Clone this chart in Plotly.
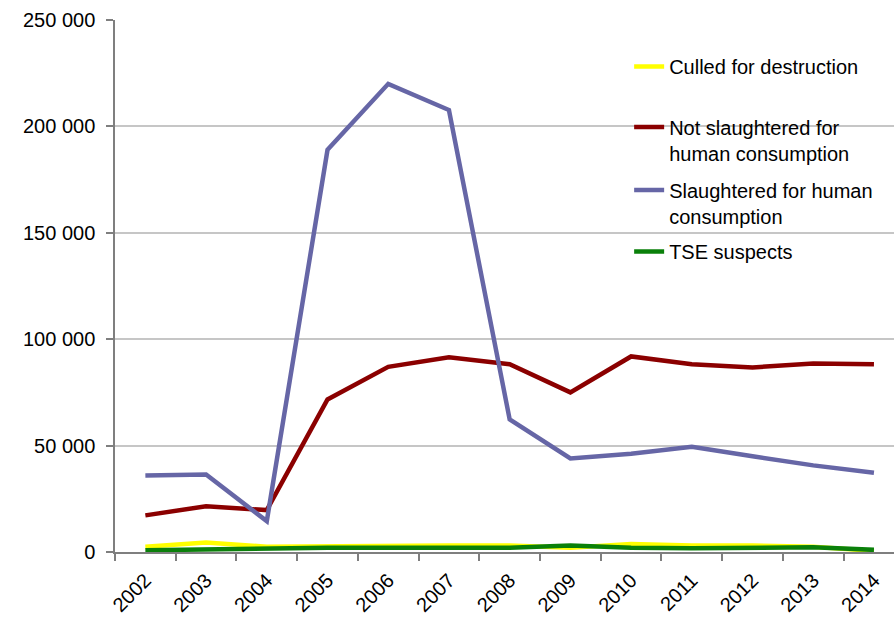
import plotly.graph_objects as go

# Years on the category axis
years = ["2002", "2003", "2004", "2005", "2006", "2007", "2008",
         "2009", "2010", "2011", "2012", "2013", "2014"]

# Number of animals per year, by category
culled_for_destruction = [2500, 4500, 2500, 2800, 3000, 3000, 3000,
                          2000, 3800, 3000, 3000, 2500, 500]
not_slaughtered_for_hc = [17200, 21500, 19700, 71700, 87000, 91500, 88200,
                          75000, 91900, 88200, 86700, 88600, 88200]
slaughtered_for_hc = [36000, 36400, 14500, 189000, 220000, 207700, 62300,
                      44000, 46200, 49500, 45000, 40700, 37200]
tse_suspects = [800, 1200, 1800, 2000, 2000, 1800, 2000,
                3000, 2000, 1800, 2000, 2200, 1000]

# Y-axis ticks
y_tick_values = [0, 50000, 100000, 150000, 200000, 250000]
y_tick_labels = ["0", "50 000", "100 000", "150 000", "200 000", "250 000"]

FONT = "Liberation Sans, Arial, sans-serif"

series = [
    ("Culled for destruction", culled_for_destruction, "#FFFF00", "legend"),
    ("Not slaughtered for<br>human consumption", not_slaughtered_for_hc, "#8B0000", "legend2"),
    ("Slaughtered for human<br>consumption", slaughtered_for_hc, "#6666A6", "legend3"),
    ("TSE suspects", tse_suspects, "#0A800A", "legend4"),
]

fig = go.Figure()
for name, values, color, leg in series:
    fig.add_trace(go.Scatter(
        x=years, y=values, name=name, mode="lines",
        line=dict(color=color, width=4.5),
        legend=leg,
    ))

# One legend box per series so each entry sits at its own height
legend_common = dict(
    x=0.66, xanchor="left", yanchor="middle",
    bgcolor="rgba(0,0,0,0)", borderwidth=0,
    font=dict(family=FONT, size=20, color="#000000"),
    valign="top",
)
fig.update_layout(
    legend=dict(y=0.9126, **legend_common),
    legend2=dict(y=0.7744, **legend_common),
    legend3=dict(y=0.6560, **legend_common),
    legend4=dict(y=0.5648, **legend_common),
)

fig.update_layout(
    width=894, height=617,
    margin=dict(l=115, r=0, t=20, b=65),
    paper_bgcolor="white", plot_bgcolor="white",
    font=dict(family=FONT, size=20, color="#000000"),
    showlegend=True,
    xaxis=dict(
        type="category",
        range=[-0.5, 12.33],
        tickson="boundaries",
        ticks="outside", ticklen=7, tickcolor="#7f7f7f", tickwidth=1.5,
        showline=True, linecolor="#7f7f7f", linewidth=1.5,
        showgrid=False, zeroline=False,
        tickangle=-45,
        ticklabelstandoff=7,
        tickfont=dict(family=FONT, size=20, color="#000000"),
    ),
    yaxis=dict(
        range=[0, 250000],
        tickvals=y_tick_values, ticktext=y_tick_labels,
        ticks="outside", ticklen=7, tickcolor="#7f7f7f", tickwidth=1.5,
        showline=True, linecolor="#7f7f7f", linewidth=1.5,
        showgrid=True, gridcolor="#c6c6c6", gridwidth=1.5,
        zeroline=False,
        ticklabelstandoff=7,
        tickfont=dict(family=FONT, size=20, color="#000000"),
    ),
)

fig.write_html("out.html")
